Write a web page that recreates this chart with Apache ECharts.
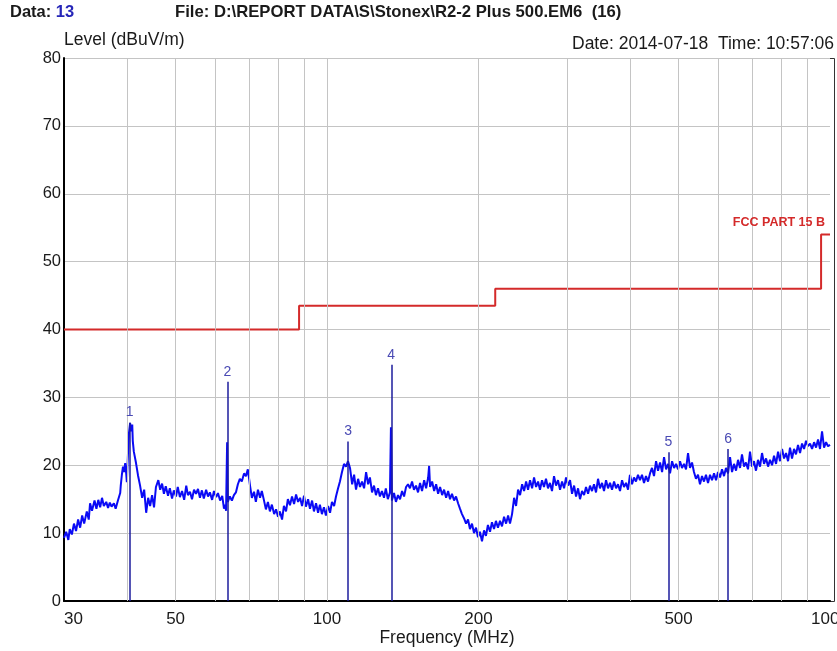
<!DOCTYPE html>
<html>
<head>
<meta charset="utf-8">
<script src="https://cdn.jsdelivr.net/npm/echarts@6/dist/echarts.min.js"></script>
<style>
  html, body { margin: 0; padding: 0; background: #fff; }
  #chart { width: 837px; height: 651px; }
</style>
</head>
<body>
<div id="chart"></div>
<script>
// Radiated emission sweep, 30 MHz - 1 GHz, level in dBuV/m
const trace = [
  [30.0,9.3],[30.3,10.2],[30.6,9.0],[30.8,10.6],[31.1,9.8],[31.4,11.4],[31.7,10.3],[32.0,12.0],
  [32.3,10.8],[32.6,12.6],[32.9,11.4],[33.3,13.2],[33.6,12.0],[33.8,14.4],[34.1,13.3],[34.5,14.8],
  [34.8,13.6],[35.1,14.9],[35.4,13.8],[35.7,15.2],[36.0,14.0],[36.4,14.6],[36.7,13.7],[37.0,14.5],
  [37.3,13.9],[37.7,14.4],[38.0,13.6],[38.4,14.8],[38.8,15.9],[38.9,17.0],[39.1,18.6],[39.3,19.8],
  [39.5,19.0],[39.7,20.3],[39.9,18.6],[40.0,17.5],[40.2,21.5],[40.4,24.8],[40.6,26.2],[40.8,25.0],
  [41.0,26.0],[41.1,23.6],[41.3,22.0],[41.7,20.4],[42.1,18.5],[42.5,17.0],[42.9,15.2],[43.3,16.4],
  [43.7,13.0],[44.1,15.2],[44.5,14.0],[44.9,15.6],[45.3,13.8],[45.7,16.8],[46.2,17.8],[46.6,16.4],
  [47.0,17.3],[47.4,15.8],[47.8,16.9],[48.3,15.5],[48.7,16.6],[49.2,15.1],[49.6,16.3],[50.1,15.4],
  [50.5,16.8],[51.0,15.3],[51.5,16.2],[52.0,14.9],[52.5,17.0],[52.9,15.6],[53.4,16.1],[53.9,15.0],
  [54.4,16.4],[54.9,15.8],[55.4,16.5],[55.9,15.2],[56.4,16.3],[56.9,15.1],[57.5,16.4],[58.0,15.4],
  [58.5,16.0],[59.1,14.9],[59.6,16.2],[60.2,15.3],[60.7,15.9],[61.3,14.8],[61.9,15.5],[62.4,13.6],
  [62.7,14.2],[63.0,13.3],[63.3,23.4],[63.5,14.6],[64.1,15.4],[64.7,14.8],[65.3,15.6],[65.9,16.0],
  [66.5,17.2],[67.1,18.0],[67.7,17.6],[68.4,18.8],[69.0,18.4],[69.6,19.4],[70.3,17.0],[70.9,15.2],
  [71.6,16.1],[72.2,14.6],[72.9,16.4],[73.6,15.2],[74.2,16.2],[74.9,14.9],[75.6,13.5],[76.3,14.6],
  [77.0,13.2],[77.7,14.2],[78.5,12.8],[79.2,13.5],[79.9,12.4],[80.6,13.2],[81.4,12.0],[82.1,14.0],
  [82.9,13.2],[83.6,15.0],[84.4,14.1],[85.2,15.4],[86.0,14.3],[86.8,15.7],[87.6,14.6],[88.4,15.2],
  [89.2,14.0],[90.0,15.5],[90.8,13.9],[91.7,15.0],[92.5,13.6],[93.4,14.8],[94.2,13.2],[95.1,14.4],
  [96.0,13.0],[96.8,14.2],[97.7,12.8],[98.6,13.8],[99.5,12.6],[100.5,14.0],[101.4,13.0],[102.3,14.6],
  [103.3,14.0],[104.2,15.4],[105.2,16.6],[106.1,17.6],[107.1,19.0],[108.1,20.2],[109.1,19.8],[110.1,20.6],
  [111.1,19.6],[112.2,17.2],[113.2,18.6],[114.2,16.4],[115.3,18.0],[116.3,16.8],[117.4,17.6],[118.5,16.6],
  [119.6,19.0],[120.7,17.2],[121.7,18.2],[122.9,16.0],[124.0,17.0],[125.1,15.6],[126.3,16.6],[127.4,15.4],
  [128.6,16.2],[129.8,15.2],[130.9,16.6],[132.1,15.0],[133.4,16.0],[134.0,25.6],[134.6,14.8],[135.9,15.9],
  [137.1,14.6],[138.4,15.6],[139.7,15.0],[141.0,16.2],[142.3,15.4],[143.6,16.8],[144.9,17.2],[146.2,16.6],
  [147.6,17.6],[148.9,16.4],[150.3,17.0],[151.7,16.0],[153.1,17.4],[154.5,16.2],[156.0,17.8],[157.4,16.6],
  [158.9,18.2],[159.6,19.9],[160.3,16.8],[161.8,17.6],[163.3,16.2],[164.8,17.2],[166.3,15.8],[167.8,16.8],
  [169.4,15.6],[170.9,16.4],[172.5,15.2],[174.1,16.2],[175.6,15.0],[177.2,15.8],[178.9,14.8],[180.5,15.4],
  [182.2,14.4],[183.8,13.6],[185.5,12.8],[187.2,12.2],[189.0,11.4],[190.7,12.0],[192.4,10.6],[194.2,11.4],
  [196.0,10.0],[197.8,10.8],[199.6,9.4],[201.4,10.2],[203.3,8.8],[205.2,10.4],[207.0,9.6],[208.9,11.2],
  [210.9,10.2],[212.8,11.6],[214.8,10.6],[216.7,11.8],[218.7,10.8],[220.8,11.8],[222.8,11.0],[224.9,12.4],
  [227.0,11.4],[229.1,12.6],[231.1,11.4],[233.3,12.8],[235.5,15.2],[237.6,14.0],[239.8,16.4],[242.0,15.6],
  [244.3,17.2],[246.5,16.2],[248.8,17.6],[251.0,16.4],[253.3,17.8],[255.7,16.6],[258.0,18.2],[260.4,16.8],
  [262.8,17.6],[265.1,16.4],[267.6,17.8],[270.0,16.8],[272.5,18.0],[275.0,16.6],[277.5,17.4],[280.1,16.2],
  [282.7,18.4],[285.3,17.0],[287.9,17.8],[290.6,16.4],[293.3,17.6],[296.0,16.6],[298.7,18.2],[301.5,17.0],
  [304.2,17.8],[307.0,15.8],[309.9,17.0],[312.7,15.4],[315.6,16.6],[318.4,15.0],[321.4,16.2],[324.4,15.6],
  [327.3,16.8],[330.4,15.8],[333.3,17.0],[336.4,16.2],[339.5,17.2],[342.6,16.0],[345.8,18.0],[348.9,16.6],
  [352.2,17.4],[355.4,16.2],[358.7,17.8],[362.0,16.6],[365.3,17.4],[368.7,16.4],[372.1,17.6],[375.5,16.6],
  [378.9,17.2],[382.4,16.2],[386.0,17.8],[389.5,16.8],[393.1,17.4],[396.7,16.4],[400.2,18.6],[404.0,17.2],
  [407.7,18.2],[411.4,17.6],[415.2,18.6],[419.0,17.8],[422.9,18.6],[426.8,17.4],[430.7,18.4],[434.7,17.6],
  [438.7,18.8],[442.7,19.6],[446.8,18.4],[451.0,20.6],[455.1,19.2],[459.3,20.4],[463.6,19.0],[467.8,21.2],
  [472.2,19.4],[476.5,20.2],[480.8,18.8],[485.3,20.6],[489.8,19.6],[494.3,20.2],[498.8,19.4],[503.3,20.6],
  [507.9,19.6],[512.6,20.2],[517.3,19.4],[522.1,21.8],[526.8,19.6],[531.7,20.4],[536.5,19.0],[541.4,18.0],
  [546.5,18.6],[551.5,17.2],[556.6,18.4],[561.7,17.6],[566.8,18.6],[572.1,17.4],[577.4,18.6],[582.7,17.8],
  [588.1,18.8],[593.5,17.8],[598.9,19.0],[604.4,18.2],[610.0,19.4],[615.6,18.4],[621.2,19.6],[627.0,18.8],
  [632.8,21.2],[638.6,19.0],[644.5,20.2],[650.4,19.2],[656.4,20.8],[662.4,19.6],[668.4,21.6],[674.6,19.8],
  [680.7,20.4],[687.0,19.4],[693.4,22.0],[699.7,19.8],[706.1,20.6],[712.6,19.2],[719.2,20.8],[725.9,19.8],
  [732.6,21.8],[739.4,20.2],[746.2,21.0],[753.1,19.8],[759.9,20.8],[767.0,20.0],[774.0,21.4],[781.2,20.2],
  [788.4,22.0],[795.6,20.6],[802.9,22.4],[810.3,21.0],[817.8,21.8],[825.3,20.6],[832.7,22.6],[840.4,21.0],
  [848.2,22.4],[855.9,21.6],[863.8,23.0],[871.8,21.8],[879.9,23.2],[888.0,22.4],[896.1,23.6],[904.4,22.8],
  [912.7,23.2],[921.2,22.4],[929.7,23.4],[938.2,22.6],[946.7,23.8],[955.3,22.4],[964.2,25.0],[973.1,22.6],
  [982.1,23.4],[990.8,22.8],[1000,23.0]
];

// FCC Part 15 class B limit (3 m), stepped
const limitMHz   = [30, 88, 88, 216, 216, 960, 960, 1000];
const limitLevel = [40, 40, 43.5, 43.5, 46, 46, 54, 54];

// Peak markers
const markerMHz   = [40.5, 63.4, 110.1, 134.2, 477, 627.6];
const markerLevel = [26.3, 32.3, 23.5, 34.8, 21.9, 22.4];

// Axis ticks
const freqLabels = [30, 50, 100, 200, 500, 1000];
const freqGrid   = [40, 50, 60, 70, 80, 90, 100, 200, 300, 400, 500, 600, 700, 800, 900];

const FONT = 'Liberation Sans, Arial, sans-serif';
const TXT = '#1a1a1a';

const chart = echarts.init(document.getElementById('chart'), null, { renderer: 'canvas' });

chart.setOption({
  animation: false,
  backgroundColor: '#fff',
  textStyle: { fontFamily: FONT },
  grid: { left: 64, right: 7, top: 58, bottom: 50, show: false, outerBoundsMode: 'none', containLabel: false },
  graphic: [
    {
      // plot frame, slightly wider than the 30-1000 MHz span
      type: 'rect', z: -1, silent: true,
      shape: { x: 64.5, y: 58.5, width: 770, height: 543 },
      style: { fill: 'none', stroke: '#333', lineWidth: 1 }
    },
    {
      type: 'text', left: 10, top: 4,
      style: {
        text: '{a|Data: }{b|13}',
        rich: {
          a: { fontSize: 16.5, fontFamily: FONT, fill: TXT, fontWeight: 'bold' },
          b: { fontSize: 16.5, fontFamily: FONT, fill: '#2626b8', fontWeight: 'bold' }
        }
      }
    },
    {
      type: 'text', left: 175, top: 4,
      style: {
        text: 'File: D:\\REPORT DATA\\S\\Stonex\\R2-2 Plus 500.EM6  (16)',
        fontSize: 16.7, fontFamily: FONT, fill: TXT, fontWeight: 'bold'
      }
    },
    {
      type: 'text', right: 3, top: 35,
      style: {
        text: 'Date: 2014-07-18  Time: 10:57:06',
        fontSize: 17.5, fontFamily: FONT, fill: TXT
      }
    }
  ],
  xAxis: {
    type: 'log',
    logBase: 10,
    min: 30,
    max: 1000,
    name: 'Frequency (MHz)',
    nameLocation: 'middle',
    nameGap: 28,
    nameMoveOverlap: false,
    nameTextStyle: { fontSize: 17.5, color: TXT, fontFamily: FONT },
    axisLine: { show: true, lineStyle: { color: '#000', width: 2 } },
    axisTick: { show: false },
    splitLine: { show: false },
    axisLabel: {
      customValues: freqLabels,
      formatter: v => String(v),
      alignMinLabel: 'left',
      margin: 10,
      fontSize: 17,
      color: TXT,
      fontFamily: FONT
    }
  },
  yAxis: {
    type: 'value',
    min: 0,
    max: 80,
    interval: 10,
    name: 'Level (dBuV/m)',
    nameLocation: 'end',
    nameGap: 4,
    nameTextStyle: { fontSize: 17.5, color: TXT, align: 'left', verticalAlign: 'bottom', fontFamily: FONT },
    axisLine: { show: true, lineStyle: { color: '#000', width: 2 } },
    axisTick: { show: false },
    axisLabel: { fontSize: 16.5, color: TXT, margin: 3, fontFamily: FONT },
    splitLine: { show: true, lineStyle: { color: '#c4c4c4', width: 1 } }
  },
  series: [
    {
      // vertical frequency grid
      type: 'line',
      data: [],
      silent: true,
      z: 1,
      markLine: {
        silent: true,
        symbol: ['none', 'none'],
        label: { show: false },
        lineStyle: { color: '#c4c4c4', width: 1, type: 'solid' },
        data: freqGrid.map(f => ({ xAxis: f }))
      }
    },
    {
      name: 'FCC PART 15 B',
      type: 'line',
      z: 3,
      showSymbol: false,
      symbol: 'none',
      lineStyle: { color: '#d42a2a', width: 2 },
      data: limitMHz.map((f, i) => [f, limitLevel[i]]),
      markPoint: {
        symbol: 'rect',
        symbolSize: 0,
        label: {
          show: true,
          position: 'top',
          align: 'right',
          distance: 5,
          offset: [-5, 0],
          formatter: 'FCC PART 15 B',
          fontSize: 12.5,
          fontWeight: 'bold',
          color: '#d42a2a',
          fontFamily: FONT
        },
        data: [{ coord: [limitMHz[limitMHz.length - 1], limitLevel[limitLevel.length - 1]] }]
      }
    },
    {
      name: 'Level',
      type: 'line',
      z: 4,
      showSymbol: false,
      symbol: 'none',
      lineStyle: { color: '#0a0af5', width: 2 },
      data: trace
    },
    {
      // marker lines with their index numbers
      type: 'line',
      data: [],
      z: 5,
      markLine: {
        silent: true,
        symbol: ['none', 'none'],
        lineStyle: { color: '#1c1c9c', width: 1.5, type: 'solid' },
        label: {
          show: true,
          position: 'end',
          distance: 3,
          formatter: p => p.name,
          fontSize: 14,
          color: '#4a4ab4',
          fontFamily: FONT
        },
        data: markerMHz.map((f, i) => [
          { coord: [f, 0], name: String(i + 1) },
          { coord: [f, markerLevel[i]], name: String(i + 1) }
        ])
      }
    }
  ]
});
</script>
</body>
</html>
